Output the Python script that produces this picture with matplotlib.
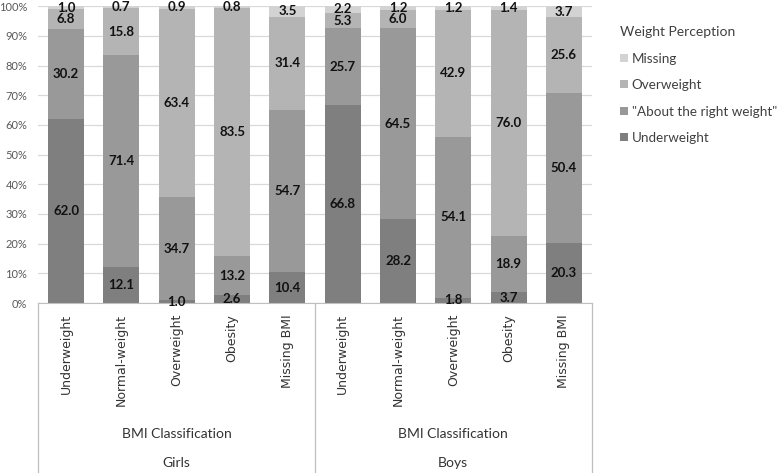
import matplotlib.pyplot as plt
import numpy as np

# bars: girls then boys, BMI class each
bmi = ["Underweight", "Normal-weight", "Overweight", "Obesity", "Missing BMI"]
sexes = ["Girls", "Boys"]
categories = bmi + bmi

series_names = ["Underweight", "\"About the right weight\"", "Overweight", "Missing"]
underweight = [62.0, 12.1, 1.0, 2.6, 10.4, 66.8, 28.2, 1.8, 3.7, 20.3]
about_right = [30.2, 71.4, 34.7, 13.2, 54.7, 25.7, 64.5, 54.1, 18.9, 50.4]
overweight = [6.8, 15.8, 63.4, 83.5, 31.4, 5.3, 6.0, 42.9, 76.0, 25.6]
missing = [1.0, 0.7, 0.9, 0.8, 3.5, 2.2, 1.2, 1.2, 1.4, 3.7]

colors = ["#7f7f7f", "#999999", "#b4b4b4", "#d3d3d3"]
yticks = [0, 10, 20, 30, 40, 50, 60, 70, 80, 90, 100]

fig = plt.figure(figsize=(7.78, 4.73), dpi=100)
ax = fig.add_axes([0.0494, 0.3594, 0.711, 0.6276])

x = np.arange(len(categories))
bottom = np.zeros(len(categories))
handles = []
for vals, name, c in zip([underweight, about_right, overweight, missing], series_names, colors):
    vals = np.array(vals)
    b = ax.bar(x, vals, 0.65, bottom=bottom, color=c, label=name, zorder=2)
    handles.append(b)
    for xi, v, bt in zip(x, vals, bottom):
        ax.text(xi, bt + v / 2, f"{v:.1f}", ha="center", va="center",
                fontsize=9.5, fontweight="bold", family="Lato", color="#111111", zorder=3)
    bottom += vals

ax.set_xlim(-0.5, len(categories) - 0.5)
ax.set_ylim(0, 100)
ax.set_yticks(yticks)
ax.set_yticklabels([f"{t}%" for t in yticks], fontsize=8, color="#595959", family="Lato")
ax.yaxis.grid(True, color="#d9d9d9", lw=0.9, zorder=0)
ax.set_axisbelow(True)
for s in ["top", "right", "left"]:
    ax.spines[s].set_visible(False)
ax.spines["bottom"].set_color("#bfbfbf")
ax.tick_params(axis="y", length=0, pad=8)
ax.tick_params(axis="x", length=0, pad=8)
ax.set_xticks(x)
ax.set_xticklabels(categories, rotation=90, fontsize=9, color="#333333", family="DejaVu Sans", va="top")

# group separators and labels under the axis
trans = ax.get_xaxis_transform()
for xs in [-0.5, 4.5, 9.5]:
    ax.plot([xs, xs], [0, -0.6], transform=trans, color="#bfbfbf", lw=0.9, clip_on=False)
for i, s in enumerate(sexes):
    xc = i * 5 + 2
    ax.text(xc, -0.44, "BMI Classification", transform=trans, ha="center", va="center",
            fontsize=10, family="Lato", color="#333333")
    ax.text(xc, -0.54, s, transform=trans, ha="center", va="center",
            fontsize=10, family="Lato", color="#333333")

leg = ax.legend(handles[::-1], series_names[::-1], loc="upper left", bbox_to_anchor=(1.035, 0.965),
                frameon=False, title="Weight Perception", handlelength=0.55, handleheight=0.55,
                handletextpad=0.3, labelspacing=1.08, borderpad=0.2,
                prop={"family": "Lato", "size": 9.7})
leg.get_title().set_fontfamily("Lato")
leg.get_title().set_fontsize(10)
leg.get_title().set_color("#404040")
leg._legend_box.align = "left"
for t in leg.get_texts():
    t.set_color("#404040")

fig.savefig("out.png", dpi=100)
